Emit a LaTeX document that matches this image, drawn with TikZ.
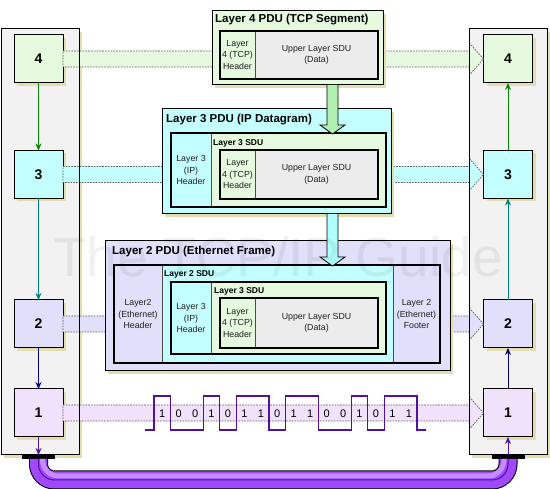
\documentclass[tikz,border=0pt]{standalone}
\usepackage{fontspec}
\setmainfont{Liberation Sans}
\usepackage{xcolor}
\usepackage{tikz}
\usetikzlibrary{arrows.meta, positioning, calc, shadows}
\definecolor{panelgray}{RGB}{242,242,242}
\definecolor{shadowkhaki}{RGB}{226,222,178}
\definecolor{lgreen}{RGB}{228,249,222}
\definecolor{lcyan}{RGB}{196,255,255}
\definecolor{llav}{RGB}{224,224,250}
\definecolor{lpink}{RGB}{240,226,250}
\definecolor{datagray}{RGB}{236,236,236}
\definecolor{arrowgreen}{RGB}{176,240,176}
\definecolor{arrowcyan}{RGB}{176,255,255}
\definecolor{darkgreen}{RGB}{0,136,0}
\definecolor{tealline}{RGB}{0,128,128}
\definecolor{navyline}{RGB}{0,0,128}
\definecolor{purpleline}{RGB}{80,16,160}
\definecolor{cablepurple}{RGB}{160,72,250}
\definecolor{cablelight}{RGB}{196,140,255}

\begin{document}
\begin{tikzpicture}[
    x=1pt, y=-1pt,
    >={Stealth[length=7pt, width=6pt]},
    khakishadow/.style={drop shadow={shadow xshift=3pt, shadow yshift=-3pt, fill=shadowkhaki, opacity=1}},
    panel/.style={draw, line width=1pt, fill=panelgray, anchor=north west, minimum width=78, minimum height=426, inner sep=0pt, outer sep=0pt, khakishadow},
    layerbox/.style={draw, line width=1pt, minimum width=49, minimum height=48, inner sep=0pt, outer sep=0pt, font=\bfseries\fontsize{14}{14}\selectfont, khakishadow},
    band/.style={draw=black!65, line width=0.7pt, dash pattern=on 1.6pt off 1.2pt},
    pdu/.style={draw, line width=1pt, anchor=north west, inner sep=0pt, outer sep=0pt, khakishadow},
    pdutitle/.style={anchor=west, inner sep=0pt, font=\bfseries\fontsize{11.5}{12}\selectfont},
    sdutitle/.style={anchor=west, inner sep=0pt, font=\bfseries\fontsize{8.5}{10}\selectfont},
    part/.style={draw=black!70, line width=0.5pt, anchor=north west, inner sep=0pt, outer sep=0pt, align=center, text=black!88, font=\fontsize{8.8}{11.5}\selectfont},
    innerframe/.style={draw, line width=1.3pt},
    fatarrow/.style={draw, line width=0.8pt},
    bit/.style={inner sep=0pt, font=\fontsize{11}{11}\selectfont},
    cable/.style={rounded corners=16pt},
]
    \useasboundingbox (0,0) rectangle (550,489);

    % Protocol stacks
    \node[panel] (lpanel) at (1,29) {};
    \node[panel] (rpanel) at (469,29) {};
    \node[layerbox, fill=lgreen] (l4) at (38.5,59) {4};
    \node[layerbox, fill=lcyan] (l3) at (38.5,174.5) {3};
    \node[layerbox, fill=llav] (l2) at (38.5,324) {2};
    \node[layerbox, fill=lpink] (l1) at (38.5,413) {1};
    \node[layerbox, fill=lgreen] (r4) at (508,59) {4};
    \node[layerbox, fill=lcyan] (r3) at (508,174.5) {3};
    \node[layerbox, fill=llav] (r2) at (508,324) {2};
    \node[layerbox, fill=lpink] (r1) at (508,413) {1};

    % Peer communication bands
    \foreach \n/\c in {4/lgreen, 3/lcyan, 2/llav, 1/lpink}
        \path[band, fill=\c] ($(l\n.east)+(0,-8)$) -- ($(r\n.west)+(-14,-8)$) -- ($(r\n.west)+(-14,-16)$)
            -- (r\n.west) -- ($(r\n.west)+(-14,16)$) -- ($(r\n.west)+(-14,8)$) -- ($(l\n.east)+(0,8)$) -- cycle;
    \draw[line width=1pt] (lpanel.north west) rectangle (lpanel.south east);
    \draw[line width=1pt] (rpanel.north west) rectangle (rpanel.south east);

    % Down and up the stacks
    \foreach \a/\b/\c in {4/3/darkgreen, 3/2/tealline, 2/1/navyline} {
        \draw[->, \c, line width=1pt] (l\a) -- (l\b);
        \draw[->, \c, line width=1pt] (r\b) -- (r\a);
    }

    % Layer 4 PDU
    \node[pdu, fill=lgreen, minimum width=171, minimum height=74] (pdu4) at (212,11) {};
    \node[pdutitle] (title4) at (215,20) {Layer 4 PDU (TCP Segment)};
    \node[part, fill=lgreen, minimum width=35, minimum height=48] (tcph4) at (220,31) {Layer\\4 (TCP)\\Header};
    \node[part, fill=datagray, minimum width=123, minimum height=48] (data4) at (255,31) {Upper Layer SDU\\(Data)};
    \draw[innerframe] (tcph4.north west) rectangle (data4.south east);

    % Layer 3 PDU
    \node[pdu, fill=lcyan, minimum width=229, minimum height=105] (pdu3) at (162,109) {};
    \node[pdutitle] (title3) at (166,120) {Layer 3 PDU (IP Datagram)};
    \node[part, fill=lcyan, minimum width=40, minimum height=74] (iph3) at (171,133) {Layer 3\\(IP)\\Header};
    \node[part, fill=lgreen, minimum width=175, minimum height=74] (sdu3) at (211,133) {};
    \node[sdutitle] (sdut3) at (213,143) {Layer 3 SDU};
    \node[part, fill=lgreen, minimum width=35, minimum height=49] (tcph3) at (220,150) {Layer\\4 (TCP)\\Header};
    \node[part, fill=datagray, minimum width=123, minimum height=49] (data3) at (255,150) {Upper Layer SDU\\(Data)};
    \draw[innerframe] (tcph3.north west) rectangle (data3.south east);
    \draw[innerframe] (iph3.north west) rectangle (sdu3.south east);

    % Layer 2 PDU
    \node[pdu, fill=llav, minimum width=345, minimum height=130] (pdu2) at (105,241) {};
    \node[pdutitle] (title2) at (112,252) {Layer 2 PDU (Ethernet Frame)};
    \node[part, fill=llav, minimum width=48, minimum height=98] (ethh2) at (114,265) {Layer2\\(Ethernet)\\Header};
    \node[part, fill=lcyan, minimum width=231, minimum height=98] (sdu2) at (162,265) {};
    \node[part, fill=llav, minimum width=47, minimum height=98] (ethf2) at (393,265) {Layer 2\\(Ethernet)\\Footer};
    \node[sdutitle] (sdut2) at (164,274) {Layer 2 SDU};
    \node[part, fill=lcyan, minimum width=40, minimum height=72] (iph2) at (171,282) {Layer 3\\(IP)\\Header};
    \node[part, fill=lgreen, minimum width=175, minimum height=72] (sdu23) at (211,282) {};
    \node[sdutitle] (sdut23) at (214,291) {Layer 3 SDU};
    \node[part, fill=lgreen, minimum width=35, minimum height=50] (tcph2) at (220,298) {Layer\\4 (TCP)\\Header};
    \node[part, fill=datagray, minimum width=123, minimum height=50] (data2) at (255,298) {Upper Layer SDU\\(Data)};
    \draw[innerframe] (tcph2.north west) rectangle (data2.south east);
    \draw[innerframe] (iph2.north west) rectangle (sdu23.south east);
    \draw[innerframe] (ethh2.north west) rectangle (ethf2.south east);

    % Encapsulation arrows
    \coordinate (fx) at (332.5,0);
    \foreach \src/\dst/\c in {pdu4/iph3/arrowgreen, pdu3/ethh2/arrowcyan}
        \path[fatarrow, fill=\c] ($(\src.south -| fx)+(-5.5,0)$) -- ($(\dst.north -| fx)+(-5.5,-8)$)
            -- ($(\dst.north -| fx)+(-12.5,-8)$) -- ($(\dst.north -| fx)+(0,1)$) -- ($(\dst.north -| fx)+(12.5,-8)$)
            -- ($(\dst.north -| fx)+(5.5,-8)$) -- ($(\src.south -| fx)+(5.5,0)$);

    % Bits on the wire
    \draw[purpleline, line width=1.3pt] (145,430) -- (154,430) -- (154,396) -- (170.4,396) -- (170.4,430)
        -- (203.3,430) -- (203.3,396) -- (219.8,396) -- (219.8,430) -- (236.2,430) -- (236.2,396)
        -- (269.1,396) -- (269.1,430) -- (285.5,430) -- (285.5,396) -- (318.4,396) -- (318.4,430)
        -- (351.3,430) -- (351.3,396) -- (367.7,396) -- (367.7,430) -- (384.2,430) -- (384.2,396)
        -- (417,396) -- (417,430) -- (426,430);
    \foreach \b [count=\i] in {1,0,0,1,0,1,1,0,1,1,0,0,1,0,1,1}
        \node[bit] (bit\i) at ({154+(\i-0.5)*16.44},414) {\b};

    % Physical link
    \node[fill=black, minimum width=33, minimum height=4, inner sep=0pt, outer sep=0pt, anchor=north] (lbar) at (38.5,455) {};
    \node[fill=black, minimum width=33, minimum height=4, inner sep=0pt, outer sep=0pt, anchor=north] (rbar) at (508,455) {};
    \coordinate (cablelow) at (0,480);
    \draw[cable, black, line width=19pt] (lbar.south) -- (lbar.south |- cablelow) -- (rbar.south |- cablelow) -- (rbar.south);
    \draw[cable, cablepurple, line width=17pt] (lbar.south) -- (lbar.south |- cablelow) -- (rbar.south |- cablelow) -- (rbar.south);
    \draw[cable, cablelight, line width=5pt] ($(lbar.south)+(4,0)$) -- ($(lbar.south |- cablelow)+(4,-4)$) -- ($(rbar.south |- cablelow)+(-4,-4)$) -- ($(rbar.south)+(-4,0)$);
    \draw[cable, purpleline, line width=1pt] (lbar.south) -- (lbar.south |- cablelow) -- (rbar.south |- cablelow) -- (rbar.south);
    \draw[->, purpleline, line width=1pt] (l1) -- (lbar);
    \draw[->, purpleline, line width=1pt] (rbar) -- (r1);

    % Watermark
    \node[anchor=base, inner sep=0pt, text=black, text opacity=0.06, font=\fontsize{55}{55}\selectfont] (wm) at (278,277) {The TCP/IP Guide};
\end{tikzpicture}
\end{document}
